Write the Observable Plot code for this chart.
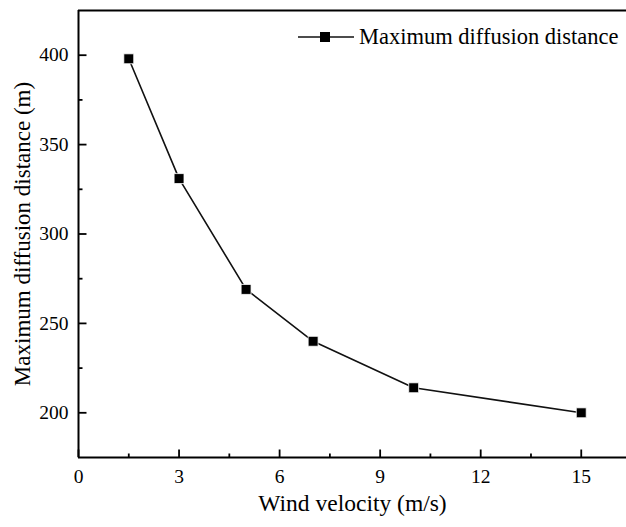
<!DOCTYPE html>
<html>
<head>
<meta charset="utf-8">
<script src="https://cdn.jsdelivr.net/npm/d3@7"></script>
<script src="https://cdn.jsdelivr.net/npm/@observablehq/plot@0.6"></script>
<style>
  html, body { margin: 0; padding: 0; background: #fff; }
  #wrap { position: relative; width: 626px; height: 527px; }
  #legend { position: absolute; left: 298px; top: 24px; font-family: "Liberation Serif", "Times New Roman", serif; font-size: 22.5px; display: flex; align-items: center; white-space: nowrap; }
</style>
</head>
<body>
<div id="wrap"></div>
<script>
const windVelocity = [1.5, 3, 5, 7, 10, 15];
const maxDistance = [398, 331, 269, 240, 214, 200];
const xMajorTicks = [0, 3, 6, 9, 12, 15];
const xMinorTicks = [1.5, 4.5, 7.5, 10.5, 13.5];
const yMajorTicks = [200, 250, 300, 350, 400];
const yMinorTicks = [225, 275, 325, 375];
const seriesName = "Maximum diffusion distance";
const xTitle = "Wind velocity (m/s)";
const yTitle = "Maximum diffusion distance (m)";

const data = windVelocity.map((v, i) => ({v, d: maxDistance[i]}));

// inward tick glyphs (style only)
const tickUp = (len) => ({draw(ctx) { ctx.moveTo(0, 0); ctx.lineTo(0, -len); }});
const tickRight = (len) => ({draw(ctx) { ctx.moveTo(0, 0); ctx.lineTo(len, 0); }});

const chart = Plot.plot({
  width: 626,
  height: 527,
  marginLeft: 78,
  marginTop: 10,
  marginBottom: 70,
  marginRight: 0,
  style: {fontFamily: "'Liberation Serif', 'Times New Roman', serif", background: "#fff", color: "#000"},
  x: {domain: [0, 16.35]},
  y: {domain: [175, 425]},
  marks: [
    Plot.axisX({ticks: xMajorTicks, tickSize: 0, tickPadding: 12, fontSize: 19.5, label: null}),
    Plot.axisY({ticks: yMajorTicks, tickSize: 0, tickPadding: 10, fontSize: 19.5, label: null}),
    Plot.dot(xMajorTicks, {x: d => d, y: () => 175, symbol: tickUp(8), stroke: "#000", strokeWidth: 1.8, fill: "none"}),
    Plot.dot(xMinorTicks, {x: d => d, y: () => 175, symbol: tickUp(4), stroke: "#000", strokeWidth: 1.8, fill: "none"}),
    Plot.dot(yMajorTicks, {x: () => 0, y: d => d, symbol: tickRight(8), stroke: "#000", strokeWidth: 1.8, fill: "none"}),
    Plot.dot(yMinorTicks, {x: () => 0, y: d => d, symbol: tickRight(4), stroke: "#000", strokeWidth: 1.8, fill: "none"}),
    Plot.ruleX([0], {strokeWidth: 2}),
    Plot.ruleY([175, 425], {strokeWidth: 2}),
    Plot.text([xTitle], {frameAnchor: "bottom", dy: 53, fontSize: 23.5}),
    Plot.text([yTitle], {frameAnchor: "left", textAnchor: "middle", dx: -56, rotate: -90, fontSize: 23}),
    Plot.line(data, {x: "v", y: "d", stroke: "#111", strokeWidth: 1.6}),
    Plot.dot(data, {x: "v", y: "d", symbol: "square", r: 5.6, fill: "#000", stroke: "#fff", strokeWidth: 0.8})
  ]
});
document.getElementById("wrap").appendChild(chart);

const legend = document.createElement("div");
legend.id = "legend";
legend.innerHTML = `<svg width="58" height="14" style="margin-right:3px"><line x1="0" y1="7" x2="56" y2="7" stroke="#111" stroke-width="1.6"/><rect x="22" y="2" width="10" height="10" fill="#000"/></svg><span>${seriesName}</span>`;
document.getElementById("wrap").appendChild(legend);
</script>
</body>
</html>
